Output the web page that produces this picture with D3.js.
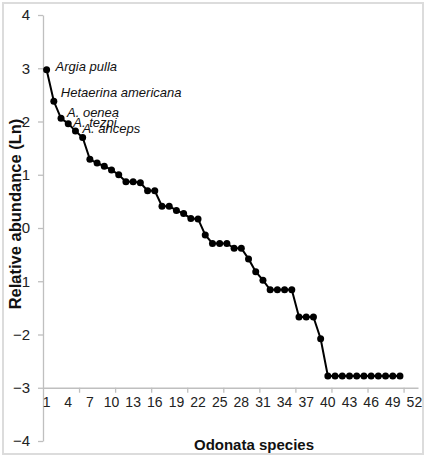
<!DOCTYPE html>
<html>
<head>
<meta charset="utf-8">
<script src="https://cdn.jsdelivr.net/npm/d3@7"></script>
<style>
  body { margin: 0; background: #fff; }
  svg { display: block; font-family: "Liberation Sans", Arial, sans-serif; }
</style>
</head>
<body>
<div id="chart"></div>
<script>
// Ln relative abundance of each Odonata species, ranked 1..50
const abundance = [
  2.97, 2.38, 2.06, 1.96, 1.82, 1.70, 1.29, 1.22, 1.16, 1.09,
  1.00, 0.87, 0.87, 0.85, 0.70, 0.70, 0.41, 0.41, 0.33, 0.27,
  0.18, 0.17, -0.13, -0.29, -0.29, -0.29, -0.38, -0.38, -0.58, -0.82,
  -0.98, -1.16, -1.16, -1.16, -1.16, -1.67, -1.67, -1.67, -2.08, -2.78,
  -2.78, -2.78, -2.78, -2.78, -2.78, -2.78, -2.78, -2.78, -2.78, -2.78
];
const categoryCount = 52;
const xTickLabels = [1, 4, 7, 10, 13, 16, 19, 22, 25, 28, 31, 34, 37, 40, 43, 46, 49, 52];
const xTickMarks = [5, 10, 15, 20, 25, 30, 35, 40, 45, 50];
const yTicks = [4, 3, 2, 1, 0, -1, -2, -3, -4];
const speciesLabels = ["Argia pulla", "Hetaerina americana", "A. oenea", "A. tezpi", "A. ahceps"];

const width = 426, height = 457;
const svg = d3.select("#chart").append("svg").attr("width", width).attr("height", height);

// outer frame
svg.append("rect")
  .attr("x", 3).attr("y", 3).attr("width", 420).attr("height", 451)
  .attr("fill", "none").attr("stroke", "#dcdcdc").attr("stroke-width", 2);

// y title first, tick labels sit on top of it
svg.append("text")
  .attr("transform", `translate(21,214) rotate(-90)`)
  .attr("text-anchor", "middle")
  .attr("font-size", 16.5)
  .attr("font-weight", "bold")
  .attr("fill", "#111")
  .text("Relative abundance (Ln)");

// scales
const left = 43, right = 418;
const cats = d3.range(1, categoryCount + 1);
const x = d3.scaleBand().domain(cats).range([left, right]);
const xc = (c) => x(c) + x.bandwidth() / 2;
const xb = d3.scaleLinear().domain([0, categoryCount]).range([left, right]);
const y = d3.scaleLinear().domain([-4, 4]).range([441, 15]);

const axisColor = "#bfbfbf";

// y axis
const yAxis = svg.append("g")
  .attr("transform", `translate(${left},0)`)
  .call(d3.axisLeft(y).tickValues(yTicks).tickSize(5).tickSizeOuter(0).tickPadding(8));
yAxis.select(".domain").attr("stroke", axisColor).attr("stroke-width", 1.3);
yAxis.selectAll(".tick line").attr("stroke", axisColor).attr("stroke-width", 1.3);
yAxis.selectAll(".tick text").attr("font-size", 15).attr("fill", "#222")
  .attr("font-family", "Liberation Sans, Arial, sans-serif");

// x axis (crosses at -3): labels
const xLab = svg.append("g")
  .attr("transform", `translate(0,${y(-3)})`)
  .call(d3.axisBottom(x).tickValues(xTickLabels).tickSize(0).tickPadding(9));
xLab.select(".domain").remove();
xLab.selectAll(".tick text").attr("font-size", 14).attr("fill", "#222")
  .attr("font-family", "Liberation Sans, Arial, sans-serif");

// x axis line and tick marks
const xMarks = svg.append("g")
  .attr("transform", `translate(0,${y(-3)})`)
  .call(d3.axisBottom(xb).tickValues(xTickMarks).tickFormat("").tickSize(5).tickSizeOuter(0));
xMarks.select(".domain").attr("stroke", axisColor).attr("stroke-width", 1.3);
xMarks.selectAll(".tick line").attr("stroke", axisColor).attr("stroke-width", 1.3);

// line + markers
const line = d3.line()
  .x((d, i) => xc(i + 1))
  .y((d) => y(d));

svg.append("path")
  .datum(abundance)
  .attr("fill", "none")
  .attr("stroke", "#000")
  .attr("stroke-width", 2)
  .attr("d", line);

svg.append("g").selectAll("circle")
  .data(abundance)
  .join("circle")
  .attr("cx", (d, i) => xc(i + 1))
  .attr("cy", (d) => y(d))
  .attr("r", 3.5)
  .attr("fill", "#000");

// species labels, offset from their points
const labelOffsets = [[9, 1], [7, -4], [6, -1], [5, 3], [7, 2]];
svg.append("g").selectAll("text")
  .data(speciesLabels)
  .join("text")
  .attr("x", (d, i) => xc(i + 1) + labelOffsets[i][0])
  .attr("y", (d, i) => y(abundance[i]) + labelOffsets[i][1])
  .attr("font-size", 13)
  .attr("font-style", "italic")
  .attr("fill", "#111")
  .text((d) => d);

// x title
svg.append("text")
  .attr("x", 254)
  .attr("y", 450)
  .attr("text-anchor", "middle")
  .attr("font-size", 15)
  .attr("font-weight", "bold")
  .attr("fill", "#111")
  .text("Odonata species");
</script>
</body>
</html>
